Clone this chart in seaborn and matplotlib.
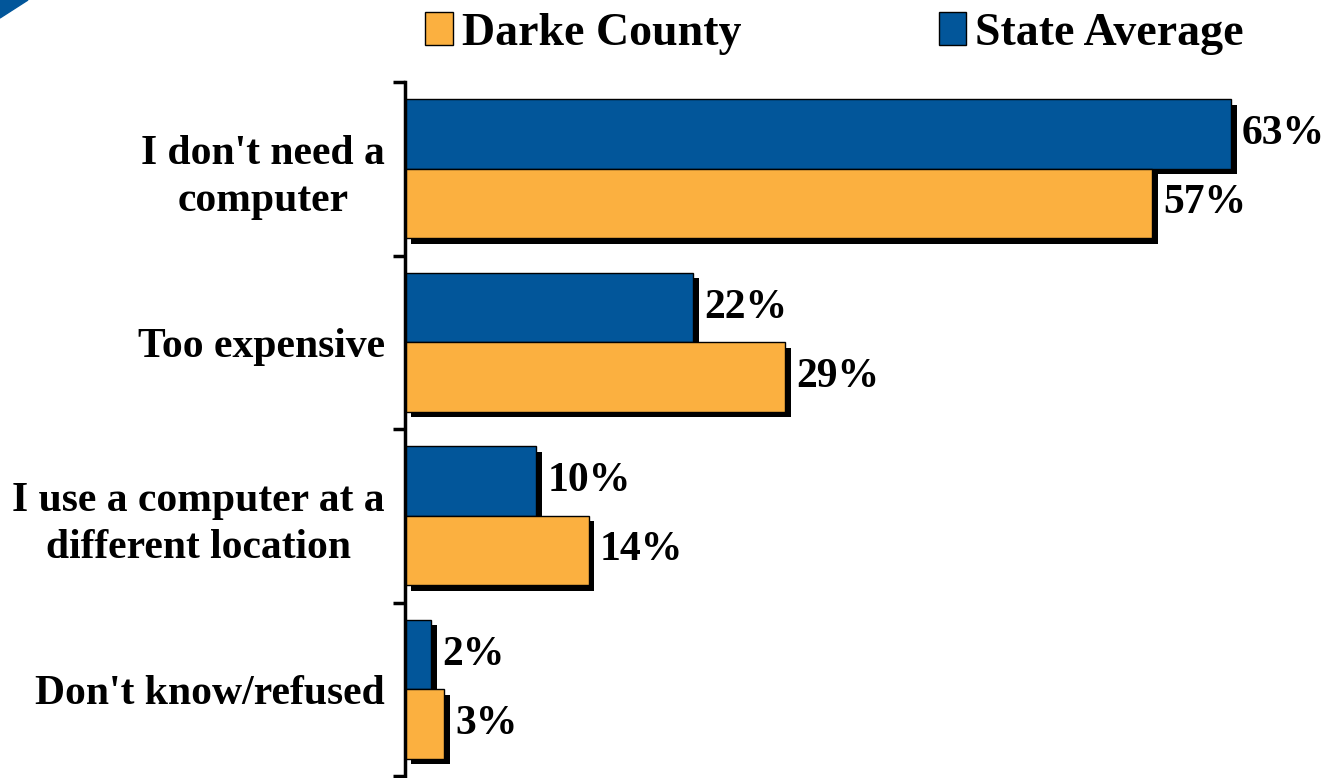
import matplotlib
matplotlib.use('Agg')
import matplotlib.pyplot as plt
import matplotlib.patheffects as pe
from matplotlib.patches import Patch, Polygon
import pandas as pd
import seaborn as sns

reasons = ["I don't need a\ncomputer", "Too expensive",
           "I use a computer at a\ndifferent location", "Don't know/refused"]
darke = [57, 29, 14, 3]
state = [63, 22, 10, 2]
groups = ['State Average', 'Darke County']

blue = '#02569A'
orange = '#FBB040'

df = pd.DataFrame({
    'reason': reasons * 2,
    'group': [groups[0]] * 4 + [groups[1]] * 4,
    'pct': state + darke,
})

sns.set_style('white')
plt.rcParams['font.family'] = ['Liberation Serif', 'DejaVu Serif']
plt.rcParams['font.weight'] = 'bold'
plt.rcParams['text.color'] = 'black'
plt.rcParams['ytick.color'] = 'black'
plt.rcParams['ytick.labelcolor'] = 'black'

fig = plt.figure(figsize=(13.28, 7.78), dpi=100)
ax = fig.add_axes([405 / 1328, 2 / 778, 923 / 1328, 694 / 778])

sns.barplot(data=df, y='reason', x='pct', hue='group', hue_order=groups,
            palette=[blue, orange], saturation=1, width=0.8,
            edgecolor='black', linewidth=1, orient='h', legend=False, ax=ax)

# drop shadow on the bars
for p in ax.patches:
    p.set_path_effects([pe.SimplePatchShadow(offset=(4, -4), shadow_rgbFace='black', alpha=1),
                        pe.Normal()])

for c in ax.containers:
    ax.bar_label(c, fmt='%d%%', padding=8, fontsize=30, fontweight='bold', color='black')

ax.set_xlim(0, 70.4)
ax.set_ylim(3.5, -0.5)
ax.xaxis.set_visible(False)
ax.set_ylabel('')
for s in ['top', 'right', 'bottom']:
    ax.spines[s].set_visible(False)
ax.spines['left'].set_linewidth(2.5)
ax.spines['left'].set_color('black')

ax.set_yticks([-0.5, 0.5, 1.5, 2.5, 3.5], minor=True)
ax.tick_params(axis='y', which='major', left=False, pad=11, labelsize=30)
ax.tick_params(axis='y', which='minor', left=True, length=9, width=2.5,
               direction='out', color='black')
for t in ax.get_yticklabels():
    t.set_multialignment('center')
    t.set_linespacing(1.3)
    t.set_fontweight('bold')

handles = [Patch(facecolor=orange, edgecolor='black'), Patch(facecolor=blue, edgecolor='black')]
fig.legend(handles, ['Darke County', 'State Average'], loc='upper left',
           bbox_to_anchor=(384 / 1328, 1.037), ncol=2, frameon=False, fontsize=33,
           handlelength=0.6, handleheight=0.7, handletextpad=0.2, columnspacing=4.3)

# corner of the logo
fig.patches.append(Polygon([[0, 1], [28 / 1328, 1], [0, 1 - 18 / 778]],
                           closed=True, transform=fig.transFigure, color=blue))

fig.savefig('out.png', dpi=100)
